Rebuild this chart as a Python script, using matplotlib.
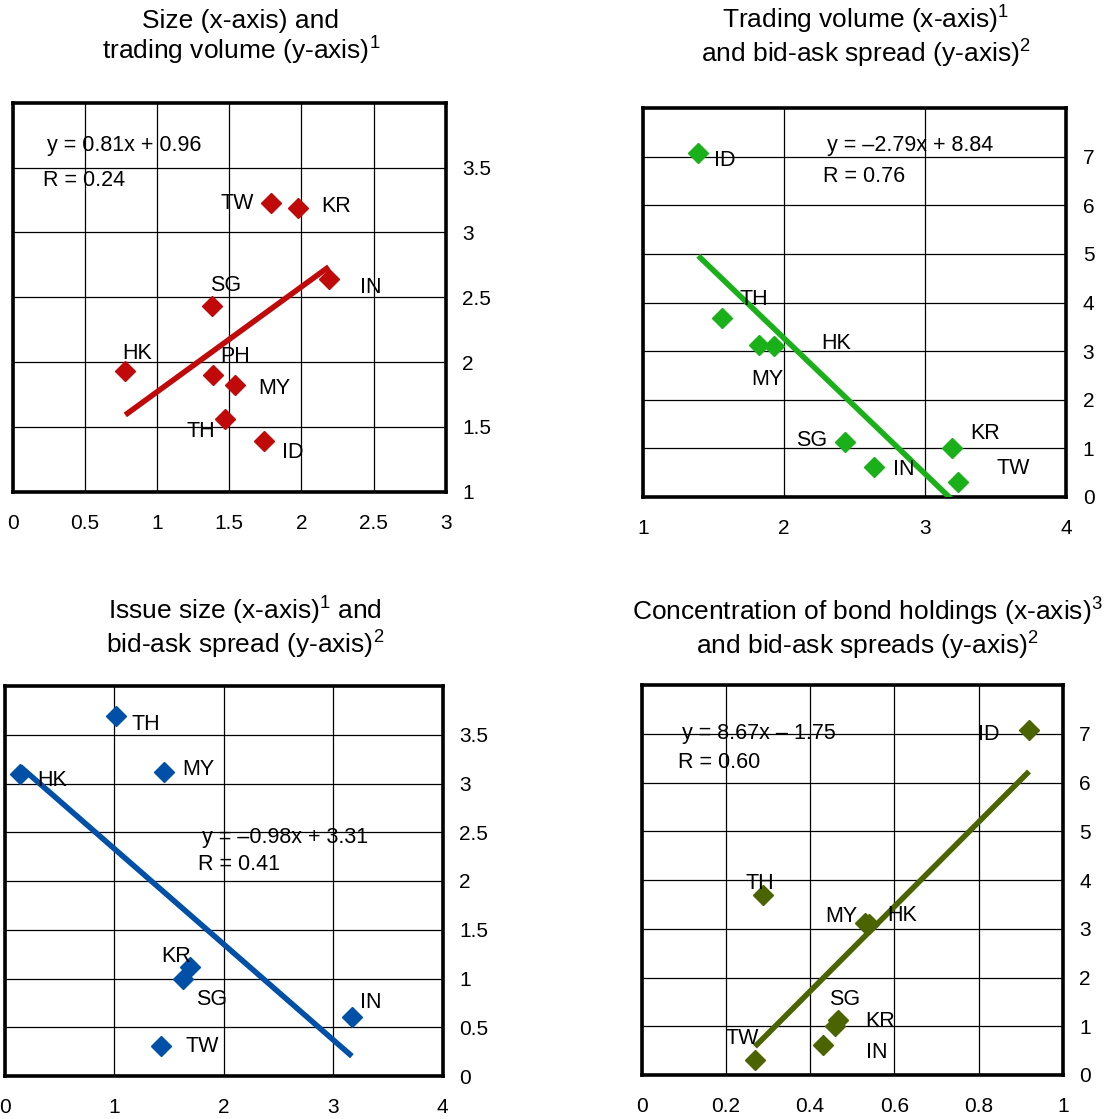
import numpy as np
import matplotlib.pyplot as plt

plt.rcParams['font.family'] = 'Liberation Sans'
plt.rcParams['mathtext.fontset'] = 'custom'
plt.rcParams['mathtext.rm'] = 'Liberation Sans'
plt.rcParams['mathtext.it'] = 'Liberation Sans'

# data
countries = ["HK", "ID", "IN", "KR", "MY", "PH", "SG", "TH", "TW"]
size = [0.78, 1.74, 2.19, 1.98, 1.54, 1.39, 1.38, 1.47, 1.79]
volume = [1.93, 1.39, 2.64, 3.19, 1.82, 1.90, 2.43, 1.56, 3.23]
spread = [3.10, 7.08, 0.61, 1.00, 3.12, np.nan, 1.12, 3.69, 0.31]
issue_size = [0.14, np.nan, 3.17, 1.63, 1.45, np.nan, 1.69, 1.01, 1.43]
concentration = [0.54, 0.92, 0.43, 0.46, 0.53, np.nan, 0.467, 0.287, 0.269]

fit_slope = [0.81, -2.79, -0.98, 8.67]
fit_intercept = [0.96, 8.84, 3.31, -1.75]
fit_r = [0.24, 0.76, 0.41, 0.60]

titles = [
    "Size (x-axis) and\ntrading volume (y-axis)$^1$",
    "Trading volume (x-axis)$^1$\nand bid-ask spread (y-axis)$^2$",
    "Issue size (x-axis)$^1$ and\nbid-ask spread (y-axis)$^2$",
    "Concentration of bond holdings (x-axis)$^3$\nand bid-ask spreads (y-axis)$^2$",
]

xticks1 = [0, 0.5, 1, 1.5, 2, 2.5, 3]
yticks1 = [1, 1.5, 2, 2.5, 3, 3.5]
xticks2 = [1, 2, 3, 4]
yticks2 = [0, 1, 2, 3, 4, 5, 6, 7]
xticks3 = [0, 1, 2, 3, 4]
yticks3 = [0, 0.5, 1, 1.5, 2, 2.5, 3, 3.5]
xticks4 = [0, 0.2, 0.4, 0.6, 0.8, 1]
yticks4 = [0, 1, 2, 3, 4, 5, 6, 7]

W, H = 1114, 1119
FS = 15.5

panels = [
    dict(x=size, y=volume, xlim=(0, 3), ylim=(1, 4), xt=xticks1, yt=yticks1,
         color="#C00A0A", box=(12.7, 102.7, 445.7, 491.7),
         title_xy=(241, 38), eq_xy=(47, 145), r_xy=(43, 181),
         offs={"TW": (-34, -1), "KR": (38, 1), "IN": (42, -8), "SG": (14, 21),
               "HK": (12, 18), "PH": (22, 18), "MY": (39, -3), "TH": (-24, -12),
               "ID": (29, -11)}),
    dict(x=volume, y=spread, xlim=(1, 4), ylim=(0, 8), xt=xticks2, yt=yticks2,
         color="#19B019", box=(643.3, 108.3, 1066, 496.7),
         title_xy=(866, 37), eq_xy=(827, 145), r_xy=(823, 177),
         offs={"ID": (26, -8), "TH": (32, 18), "MY": (8, -34), "HK": (62, 3),
               "SG": (-33, 2), "IN": (29, -2), "KR": (33, 15), "TW": (56, 13)}),
    dict(x=issue_size, y=spread, xlim=(0, 4), ylim=(0, 4), xt=xticks3, yt=yticks3,
         color="#0050A8", box=(5, 686, 442.7, 1076),
         title_xy=(245, 628), eq_xy=(202, 837), r_xy=(198, 865),
         offs={"TH": (30, -8), "HK": (32, -7), "MY": (35, 2), "KR": (-7, 22),
               "SG": (22, -33), "IN": (19, 14), "TW": (41, -1)}),
    dict(x=concentration, y=spread, xlim=(0, 1), ylim=(0, 8), xt=xticks4, yt=yticks4,
         color="#4B6400", box=(641.7, 685, 1062.7, 1075),
         title_xy=(867, 629), eq_xy=(682, 733), r_xy=(678, 763),
         offs={"ID": (-40, -5), "TH": (-3, 12), "MY": (-24, 6), "HK": (33, 8),
               "SG": (6, 21), "KR": (45, 5), "IN": (54, -7), "TW": (-13, 21)}),
]

fig = plt.figure(figsize=(W / 100, H / 100), dpi=100)

for i, p in enumerate(panels):
    l, t, r, b = p["box"]
    ax = fig.add_axes([l / W, 1 - b / H, (r - l) / W, (b - t) / H])
    x = np.array(p["x"], dtype=float)
    y = np.array(p["y"], dtype=float)
    ok = ~np.isnan(x) & ~np.isnan(y)

    ax.set_xlim(*p["xlim"])
    ax.set_ylim(*p["ylim"])
    ax.set_xticks(p["xt"])
    ax.set_xticklabels([f"{v:g}" for v in p["xt"]])
    ax.set_yticks(p["yt"])
    ax.set_yticklabels([f"{v:g}" for v in p["yt"]])
    ax.yaxis.tick_right()
    ax.tick_params(axis="both", length=0, labelsize=15, colors="black")
    ax.tick_params(axis="y", pad=12)
    ax.tick_params(axis="x", pad=16)
    ax.grid(True, color="black", lw=0.9)
    ax.set_axisbelow(True)
    for s in ax.spines.values():
        s.set_linewidth(2.6)

    # fitted line over the range of the points
    xs = np.array([x[ok].min(), x[ok].max()])
    ax.plot(xs, fit_slope[i] * xs + fit_intercept[i], color=p["color"], lw=4,
            solid_capstyle="butt", zorder=3)
    ax.plot(x[ok], y[ok], "D", color=p["color"], ms=10.5, mec=p["color"], zorder=4)

    for j, c in enumerate(countries):
        if not ok[j]:
            continue
        ax.annotate(c, (x[j], y[j]), xytext=p["offs"][c], textcoords="offset pixels",
                    ha="center", va="center", fontsize=FS, zorder=5)

    a, c0 = fit_slope[i], fit_intercept[i]
    sa = f"{a:.2f}".replace("-", "\u2013")
    sb = f"+ {c0:.2f}" if c0 >= 0 else f"\u2013 {abs(c0):.2f}"
    fig.text(p["eq_xy"][0] / W, 1 - p["eq_xy"][1] / H, f"y = {sa}x {sb}",
             ha="left", va="center", fontsize=FS)
    fig.text(p["r_xy"][0] / W, 1 - p["r_xy"][1] / H, f"R = {fit_r[i]:.2f}",
             ha="left", va="center", fontsize=FS)

    fig.text(p["title_xy"][0] / W, 1 - p["title_xy"][1] / H, titles[i],
             ha="center", va="center", multialignment="center",
             fontsize=19, linespacing=1.1)

fig.savefig("out.png", dpi=100)
